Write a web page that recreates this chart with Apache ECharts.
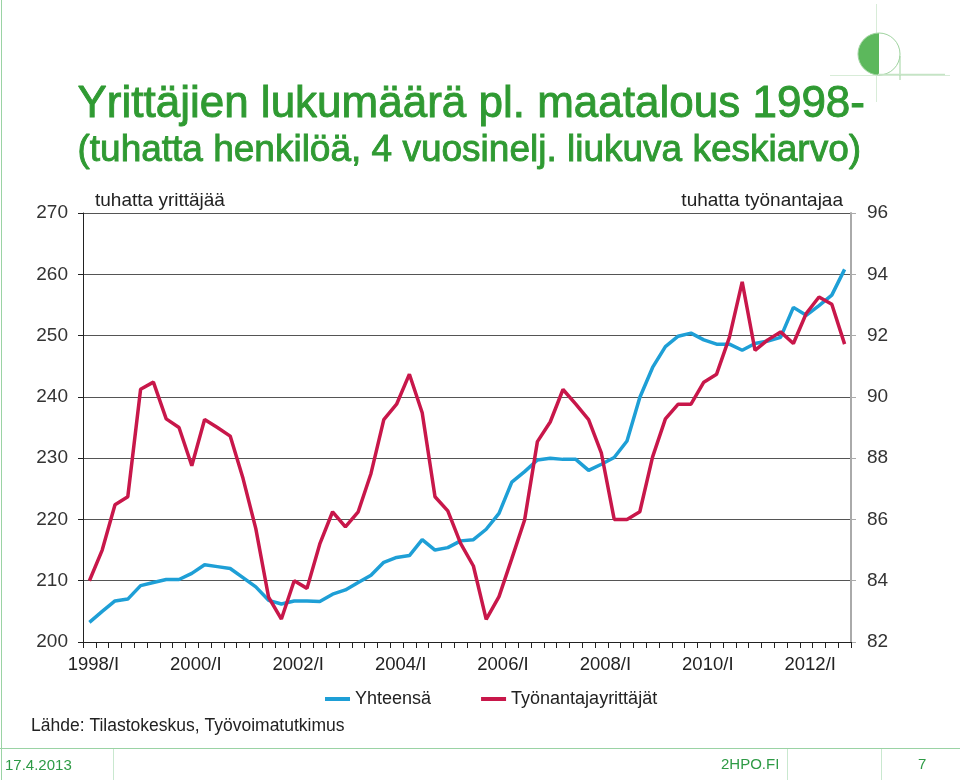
<!DOCTYPE html>
<html>
<head>
<meta charset="utf-8">
<script src="https://cdn.jsdelivr.net/npm/echarts@6/dist/echarts.min.js"></script>
<style>
html,body{margin:0;padding:0;background:#fff;}
#chart{width:960px;height:780px;}
</style>
</head>
<body>
<div id="chart"></div>
<script>
// Quarterly categories 1998/I .. 2012/IV
const years = [1998,1999,2000,2001,2002,2003,2004,2005,2006,2007,2008,2009,2010,2011,2012];
const quarters = ['I','II','III','IV'];
const categories = [];
years.forEach(y => quarters.forEach(q => categories.push(y + '/' + q)));

// Yhteensä (thousand entrepreneurs, left axis)
const yhteensa = [
  203.2,205.0,206.7,207.0,209.2,209.7,210.2,210.2,211.2,212.6,
  212.3,212.0,210.5,209.0,206.8,206.2,206.7,206.7,206.6,207.8,
  208.5,209.7,210.9,213.0,213.8,214.1,216.7,215.0,215.4,216.5,
  216.7,218.4,221.0,226.1,227.8,229.7,230.0,229.8,229.8,228.0,
  229.0,230.1,232.8,239.9,244.8,248.2,249.9,250.4,249.3,248.6,
  248.6,247.6,248.7,249.1,249.7,254.6,253.3,254.9,256.6,260.8
];

// Työnantajayrittäjät (thousand employers, right axis)
const tyonantajat = [
  84.00,85.00,86.48,86.74,90.25,90.48,89.28,89.00,87.75,89.26,
  89.00,88.72,87.34,85.70,83.46,82.75,84.00,83.75,85.20,86.25,
  85.76,86.25,87.50,89.26,89.76,90.74,89.48,86.74,86.28,85.22,
  84.48,82.74,83.48,84.72,85.98,88.54,89.18,90.24,89.76,89.26,
  88.16,86.00,86.00,86.25,88.04,89.28,89.76,89.76,90.48,90.74,
  91.94,93.75,91.52,91.86,92.12,91.74,92.72,93.26,93.02,91.72
];

const seriesNames = ['Yhteensä','Työnantajayrittäjät'];
const titleLines = ['Yrittäjien lukumäärä pl. maatalous 1998-','(tuhatta henkilöä, 4 vuosinelj. liukuva keskiarvo)'];
const leftAxisName = 'tuhatta yrittäjää';
const rightAxisName = 'tuhatta työnantajaa';
const sourceText = 'Lähde: Tilastokeskus, Työvoimatutkimus';
const footerDate = '17.4.2013';
const footerSite = '2HPO.FI';
const footerPage = '7';

const FONT = '"Liberation Sans", Arial, sans-serif';
const GREEN = '#2f9a32';
const BLUE = '#1e9fd6';
const RED = '#c8174a';

const chart = echarts.init(document.getElementById('chart'), null, {renderer:'canvas'});
chart.setOption({
  backgroundColor:'#fff',
  animation:false,
  textStyle:{fontFamily:FONT},
  graphic:[
    {type:'text', left:77, top:82, style:{text:titleLines[0], font:'44px '+FONT, fill:GREEN, stroke:GREEN, lineWidth:0.9}},
    {type:'text', left:77, top:132, style:{text:titleLines[1], font:'37px '+FONT, fill:GREEN, stroke:GREEN, lineWidth:0.9}},
    {type:'text', left:31, top:717, style:{text:sourceText, font:'17.5px '+FONT, fill:'#222'}},
    // footer lines
    {type:'line', shape:{x1:0,y1:748.5,x2:960,y2:748.5}, style:{stroke:'#9ad3a4', lineWidth:1}},
    {type:'line', shape:{x1:1.5,y1:0,x2:1.5,y2:780}, style:{stroke:'#9ad3a4', lineWidth:1}},
    {type:'line', shape:{x1:113.5,y1:749,x2:113.5,y2:780}, style:{stroke:'#c9e8cf', lineWidth:1}},
    {type:'line', shape:{x1:787.5,y1:749,x2:787.5,y2:780}, style:{stroke:'#c9e8cf', lineWidth:1}},
    {type:'line', shape:{x1:881.5,y1:749,x2:881.5,y2:780}, style:{stroke:'#c9e8cf', lineWidth:1}},
    {type:'text', left:5, top:758, style:{text:footerDate, font:'15px '+FONT, fill:'#2e9a45'}},
    {type:'text', left:721, top:757, style:{text:footerSite, font:'15px '+FONT, fill:'#2e9a45'}},
    {type:'text', left:918, top:757, style:{text:footerPage, font:'15px '+FONT, fill:'#2e9a45'}},
    // logo
    {type:'line', shape:{x1:876.5,y1:4,x2:876.5,y2:102}, style:{stroke:'#d8ecd8', lineWidth:1}},
    {type:'line', shape:{x1:830,y1:75.5,x2:950,y2:75.5}, style:{stroke:'#d8ecd8', lineWidth:1}},
    {type:'sector', shape:{cx:879, cy:54, r0:0, r:21, startAngle:Math.PI/2, endAngle:Math.PI*1.5}, style:{fill:'#5cb85c'}},
    {type:'circle', shape:{cx:879, cy:54, r:21}, style:{fill:'none', stroke:'#9fd39f', lineWidth:1}},
    {type:'line', shape:{x1:900,y1:56,x2:900,y2:80}, style:{stroke:'#9fd39f', lineWidth:1}},
    {type:'line', shape:{x1:878,y1:74.5,x2:945,y2:74.5}, style:{stroke:'#c5e4c5', lineWidth:1.5}}
  ],
  grid:{left:83, right:109, top:213, bottom:138, containLabel:false},
  legend:{
    data: seriesNames,
    top: 685, left: 320,
    itemWidth: 25, itemHeight: 4, itemGap: 50,
    icon: 'rect',
    textStyle:{fontFamily:FONT, fontSize:18, color:'#222'}
  },
  xAxis:{
    type:'category',
    data: categories,
    boundaryGap:true,
    axisLine:{lineStyle:{color:'#222', width:1}},
    axisTick:{show:true, interval:0, length:6, lineStyle:{color:'#222'}},
    axisLabel:{interval:7, fontSize:18.5, color:'#222', margin:13, fontFamily:FONT, padding:[0,0,0,8]},
    splitLine:{show:false}
  },
  yAxis:[
    {
      type:'value', min:200, max:270, interval:10, position:'left',
      name:leftAxisName, nameLocation:'end', nameGap:3,
      nameTextStyle:{fontSize:19, color:'#222', align:'left', padding:[0,0,0,12], fontFamily:FONT},
      axisLine:{show:true, lineStyle:{color:'#222'}},
      axisTick:{show:true, length:5, lineStyle:{color:'#222'}},
      axisLabel:{fontSize:19, color:'#333', margin:15, fontFamily:FONT},
      splitLine:{show:true, lineStyle:{color:'#555', width:1}}
    },
    {
      type:'value', min:82, max:96, interval:2, position:'right',
      name:rightAxisName, nameLocation:'end', nameGap:3,
      nameTextStyle:{fontSize:19, color:'#222', align:'right', padding:[0,8,0,0], fontFamily:FONT},
      axisLine:{show:true, lineStyle:{color:'#aaa', width:2}},
      axisTick:{show:true, length:5, lineStyle:{color:'#aaa'}},
      axisLabel:{fontSize:19, color:'#333', margin:16, fontFamily:FONT},
      splitLine:{show:false}
    }
  ],
  series:[
    {
      name:seriesNames[0], type:'line', yAxisIndex:0, data:yhteensa,
      symbol:'none', lineStyle:{color:BLUE, width:3.5}, itemStyle:{color:BLUE}, z:3
    },
    {
      name:seriesNames[1], type:'line', yAxisIndex:1, data:tyonantajat,
      symbol:'none', lineStyle:{color:RED, width:3.5}, itemStyle:{color:RED}, z:4
    }
  ]
});
</script>
</body>
</html>
